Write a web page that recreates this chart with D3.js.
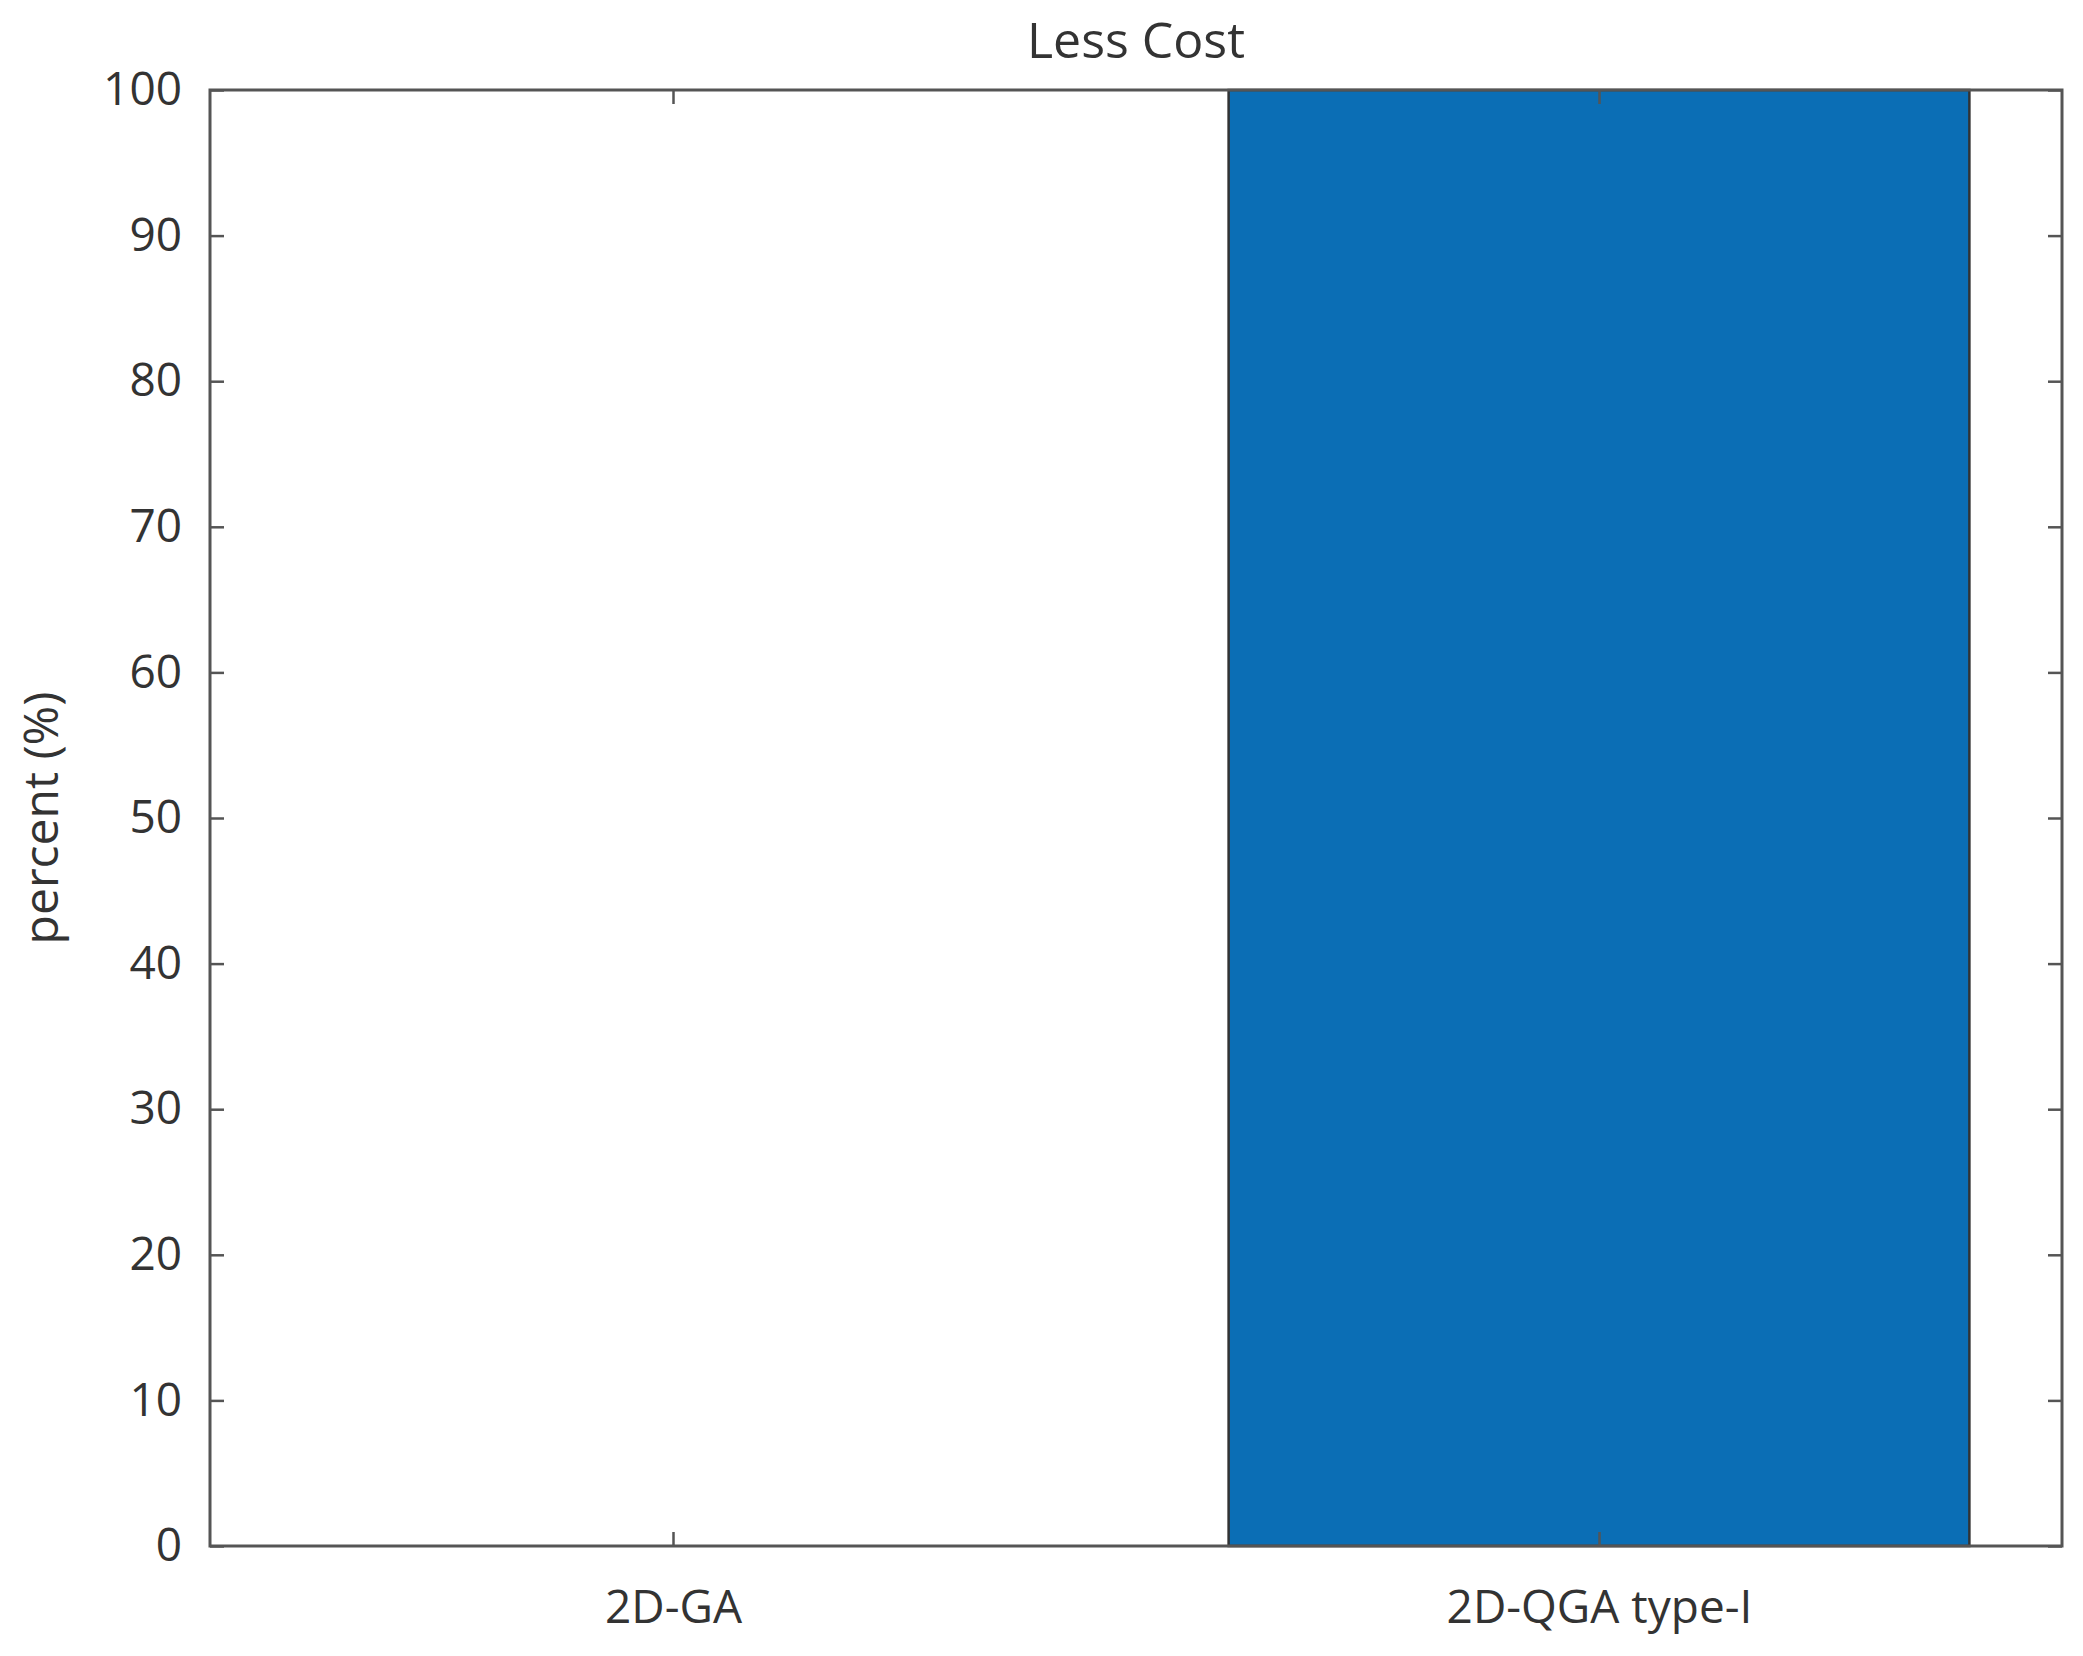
<!DOCTYPE html>
<html><head><meta charset="utf-8">
<script src="https://cdn.jsdelivr.net/npm/d3@7"></script>
<style>body{margin:0;background:#fff}text{font-family:"Open Sans",sans-serif;fill:#333}</style>
</head><body>
<script>
var categories = ['2D-GA', '2D-QGA type-I'];
var values = [0, 100];
var yTicks = [0,10,20,30,40,50,60,70,80,90,100];

var W = 2083, H = 1656;
var m = {l: 210, r: 21, t: 90, b: 110};
var svg = d3.select('body').append('svg').attr('width', W).attr('height', H);
var x = d3.scaleLinear().domain([0.5, 2.5]).range([m.l, W - m.r]);
var y = d3.scaleLinear().domain([0, 100]).range([H - m.b, m.t]);

svg.selectAll('rect.bar').data(values).enter().append('rect')
    .attr('x', function(d, i){return x(i + 1 - 0.4);})
    .attr('width', x(1.4) - x(0.6))
    .attr('y', function(d){return y(d);})
    .attr('height', function(d){return y(0) - y(d);})
    .attr('fill', '#0b6eb5').attr('stroke', '#333').attr('stroke-width', 2.5);

var tl = 14;
function style(g){ g.select('.domain').remove(); g.selectAll('line').attr('stroke','#555').attr('stroke-width',2.5); g.selectAll('text').style('font-size','46px').attr('fill','#333'); }
svg.append('g').attr('transform','translate('+m.l+',0)')
    .call(d3.axisLeft(y).tickValues(yTicks).tickSizeInner(-tl).tickSizeOuter(0).tickPadding(tl+14)).call(style);
svg.append('g').attr('transform','translate('+(W-m.r)+',0)')
    .call(d3.axisRight(y).tickValues(yTicks).tickSizeInner(-tl).tickSizeOuter(0).tickFormat('')).call(style);
svg.append('g').attr('transform','translate(0,'+(H-m.b)+')')
    .call(d3.axisBottom(x).tickValues([1,2]).tickFormat(function(d){return categories[d-1];}).tickSizeInner(-tl).tickSizeOuter(0).tickPadding(tl+30)).call(style);
svg.append('g').attr('transform','translate(0,'+m.t+')')
    .call(d3.axisTop(x).tickValues([1,2]).tickSizeInner(-tl).tickSizeOuter(0).tickFormat('')).call(style);

svg.append('rect').attr('x', m.l).attr('y', m.t).attr('width', W-m.l-m.r).attr('height', H-m.t-m.b)
    .attr('fill','none').attr('stroke','#555').attr('stroke-width',3);

svg.append('text').attr('x', (m.l + W - m.r)/2 + 0).attr('y', 58).attr('text-anchor','middle')
    .style('font-size','50px').text('Less Cost');
svg.append('text').attr('transform','translate(58,'+((m.t+H-m.b)/2)+') rotate(-90)').attr('text-anchor','middle')
    .style('font-size','48px').text('percent (%)');
</script>
</body></html>
